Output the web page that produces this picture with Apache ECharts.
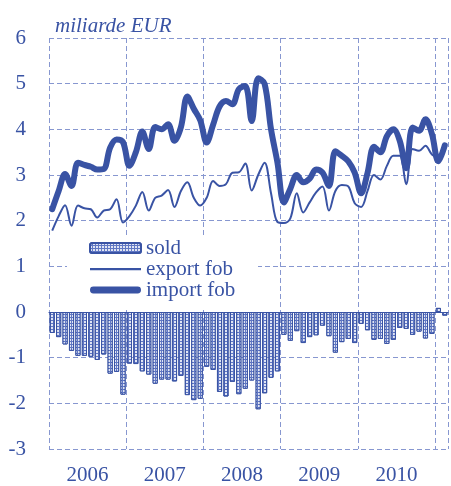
<!DOCTYPE html>
<html>
<head>
<meta charset="utf-8">
<script src="https://cdn.jsdelivr.net/npm/echarts@6/dist/echarts.min.js"></script>
<style>
html,body{margin:0;padding:0;background:#fff;}
#c{width:451px;height:486px;}
</style>
</head>
<body>
<div id="c"></div>
<script>
var categories = [
 '2006-01','2006-02','2006-03','2006-04','2006-05','2006-06','2006-07','2006-08','2006-09','2006-10','2006-11','2006-12',
 '2007-01','2007-02','2007-03','2007-04','2007-05','2007-06','2007-07','2007-08','2007-09','2007-10','2007-11','2007-12',
 '2008-01','2008-02','2008-03','2008-04','2008-05','2008-06','2008-07','2008-08','2008-09','2008-10','2008-11','2008-12',
 '2009-01','2009-02','2009-03','2009-04','2009-05','2009-06','2009-07','2009-08','2009-09','2009-10','2009-11','2009-12',
 '2010-01','2010-02','2010-03','2010-04','2010-05','2010-06','2010-07','2010-08','2010-09','2010-10','2010-11','2010-12',
 '2011-01','2011-02'
];
var yearLabels = ['2006','2007','2008','2009','2010'];
var importFob = [
 2.25,2.65,3.02,2.76,3.27,3.22,3.18,3.12,3.13,3.60,3.78,3.72,
 3.20,3.50,3.95,3.57,4.05,4.00,4.11,3.75,4.05,4.72,4.45,4.20,
 3.71,4.10,4.50,4.62,4.55,4.88,4.95,4.18,5.12,5.00,4.00,3.27,
 2.40,2.70,3.00,2.84,2.92,3.12,3.05,2.76,3.52,3.42,3.30,3.05,
 2.60,3.05,3.62,3.50,3.85,4.00,3.75,3.15,4.04,3.97,4.22,3.90,
 3.30,3.65
];
var exportFob = [
 1.78,2.10,2.34,1.89,2.33,2.27,2.25,2.07,2.22,2.25,2.47,1.96,
 2.10,2.33,2.63,2.22,2.50,2.55,2.67,2.30,2.65,2.84,2.50,2.33,
 2.50,2.87,2.76,2.80,3.05,3.06,3.25,2.66,3.00,3.27,2.60,1.97,
 1.95,2.05,2.60,2.18,2.40,2.62,2.75,2.22,2.65,2.78,2.75,2.38,
 2.30,2.65,3.00,2.90,3.20,3.42,3.42,2.80,3.57,3.53,3.64,3.45,
 3.38,3.57
];
var sold = [
 -0.46,-0.55,-0.71,-0.85,-0.96,-0.96,-0.98,-1.05,-0.93,-1.35,-1.31,-1.81,
 -1.13,-1.14,-1.30,-1.37,-1.57,-1.48,-1.48,-1.52,-1.40,-1.82,-1.93,-1.90,
 -1.20,-1.27,-1.75,-1.85,-1.53,-1.80,-1.68,-1.50,-2.13,-1.78,-1.44,-1.30,
 -0.50,-0.63,-0.42,-0.68,-0.55,-0.51,-0.30,-0.53,-0.89,-0.66,-0.59,-0.68,
 -0.26,-0.40,-0.61,-0.59,-0.70,-0.61,-0.35,-0.37,-0.50,-0.43,-0.58,-0.48,
 0.09,-0.08
];

var BLUE = '#3953a4';
var GRID = '#8797d0';
var FONT = '"Liberation Serif", "Times New Roman", serif';

// legend icons: bounding box spans the full 51x10 icon box so the stroke keeps its thickness
var thinIcon = 'path://M0,0 M51,10 M0,4 L51,4 L51,6.2 L0,6.2 Z';
var thickIcon = 'path://M0,0 M51,10 M3.4,1.6 L47.6,1.6 A3.4,3.4 0 0 1 47.6,8.4 L3.4,8.4 A3.4,3.4 0 0 1 3.4,1.6 Z';

var chart = echarts.init(document.getElementById('c'), null, {renderer:'canvas'});
chart.setOption({
  animation: false,
  backgroundColor: '#fff',
  textStyle: {fontFamily: FONT},
  grid: {left: 49, right: -2, top: 38, bottom: 35},
  title: {
    text: 'miliarde EUR', left: 50, top: 11,
    textStyle: {fontFamily: FONT, fontStyle: 'italic', fontWeight: 'normal', fontSize: 21, color: BLUE}
  },
  graphic: [{
    type: 'rect', z: 1, silent: true,
    shape: {x: 67, y: 237, width: 191, height: 73},
    style: {fill: '#fff'}
  }],
  legend: {
    orient: 'vertical', left: 89, top: 237.5, padding: 0, itemGap: 0,
    itemWidth: 51, itemHeight: 10, z: 5,
    textStyle: {fontFamily: FONT, fontSize: 21, color: BLUE, lineHeight: 21},
    data: [
      {name: 'sold'},
      {name: 'export fob', icon: thinIcon, itemStyle: {color: BLUE, borderWidth: 0}},
      {name: 'import fob', icon: thickIcon, itemStyle: {color: BLUE, borderWidth: 0}}
    ]
  },
  xAxis: [{
    type: 'category', data: categories, position: 'bottom',
    boundaryGap: true,
    axisLine: {onZero: true, lineStyle: {color: BLUE, width: 1.2}},
    axisTick: {show: false},
    axisLabel: {show: false},
    splitLine: {show: true, interval: 11, lineStyle: {color: GRID, type: [5, 3], width: 1}}
  }, {
    type: 'value', position: 'bottom', min: 0, max: categories.length, interval: 6,
    axisLine: {show: false, onZero: false}, axisTick: {show: false}, splitLine: {show: false},
    axisLabel: {
      show: true, margin: 16, color: BLUE, fontFamily: FONT, fontSize: 21,
      formatter: function (v) { return (v % 12 === 6) ? (yearLabels[(v - 6) / 12] || '') : ''; }
    }
  }],
  yAxis: {
    type: 'value', min: -3, max: 6, interval: 1,
    axisLine: {show: false}, axisTick: {show: false},
    axisLabel: {margin: 23, color: BLUE, fontFamily: FONT, fontSize: 21},
    splitLine: {show: true, lineStyle: {color: GRID, type: [5, 3], width: 1}}
  },
  series: [{
    name: 'sold', type: 'bar', data: sold, xAxisIndex: 0,
    barCategoryGap: '20%',
    itemStyle: {
      color: '#6178c4', borderColor: BLUE, borderWidth: 1,
      decal: {symbol: 'rect', symbolSize: 0.9, color: 'rgba(255,255,255,0.9)', dashArrayX: [2, 1], dashArrayY: [2, 1]}
    }
  }, {
    name: 'export fob', type: 'line', data: exportFob, xAxisIndex: 0,
    symbol: 'none', smooth: 0.35,
    lineStyle: {color: BLUE, width: 2}, itemStyle: {color: BLUE}
  }, {
    name: 'import fob', type: 'line', data: importFob, xAxisIndex: 0,
    symbol: 'none', smooth: 0.35,
    lineStyle: {color: BLUE, width: 6, cap: 'round', join: 'round'}, itemStyle: {color: BLUE}
  }]
});
</script>
</body>
</html>
